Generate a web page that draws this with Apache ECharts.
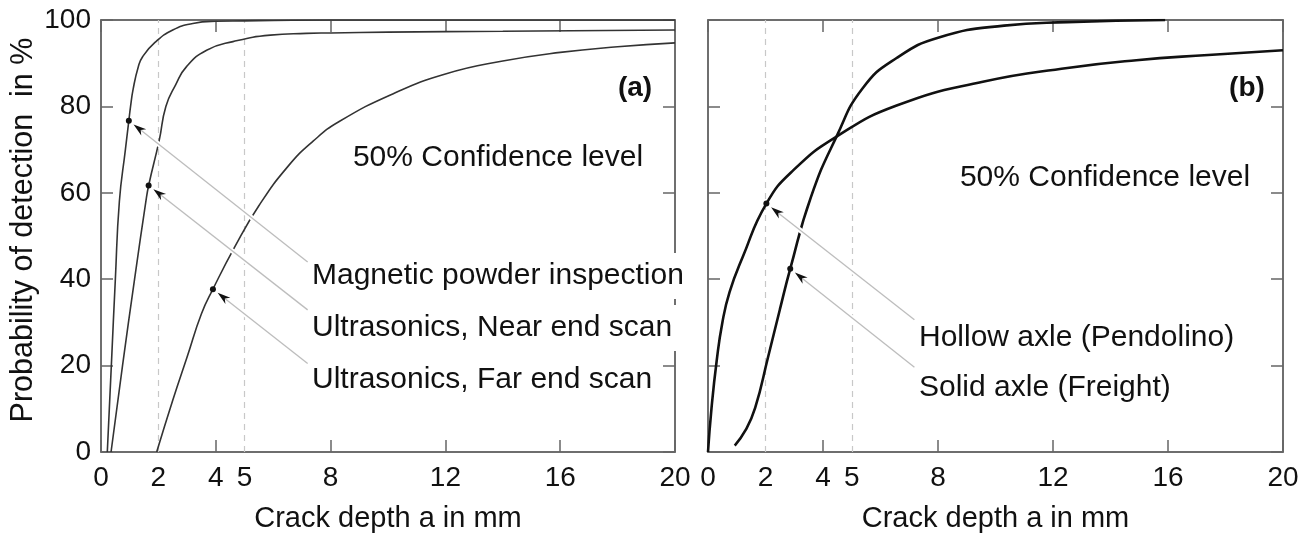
<!DOCTYPE html>
<html><head><meta charset="utf-8">
<script src="https://cdn.jsdelivr.net/npm/echarts@6/dist/echarts.min.js"></script>
<style>html,body{margin:0;padding:0;background:#fff}#c{width:1309px;height:533px}</style>
</head><body><div id="c"></div>
<script>
// ---- tick / label values ----
const xTickLabels = [0, 2, 4, 5, 8, 12, 16, 20];
const xTicks = [0, 4, 8, 12, 16, 20];
const refLines = [2, 5];

// ---- panel (a) curves ----
const magX  = [0.22, 0.36, 0.5, 0.64, 0.85, 0.97, 1.03, 1.12, 1.3, 1.45, 1.88, 2.5, 3.2, 4, 5, 6, 8, 10, 20];
const magY  = [0, 20, 40, 58, 70, 76.7, 80, 84, 89.2, 91.5, 94.8, 97.7, 99.2, 99.7, 99.8, 99.9, 100, 100, 100];
const nearX = [0.35, 0.75, 1.17, 1.57, 1.66, 2.03, 2.26, 2.6, 2.98, 3.68, 4.6, 5.9, 7.15, 8, 10, 14, 20];
const nearY = [0, 20, 40, 58.3, 61.7, 72.2, 80, 85, 89.2, 93, 95, 96.5, 96.9, 97, 97.2, 97.4, 97.7];
const farX  = [1.94, 2.5, 3, 3.5, 3.9, 4.66, 5.5, 6.5, 7.4, 8.3, 10.2, 12, 14, 16, 18, 20];
const farY  = [0, 12, 22, 32, 37.7, 47.5, 57, 66, 72, 76.5, 83, 87.5, 90.5, 92.5, 93.8, 94.7];

// ---- panel (b) curves ----
const hollowX = [0, 0.12, 0.3, 0.5, 0.75, 1.2, 2.03, 2.98, 4.47, 6.56, 9.56, 12.5, 14.9, 17.4, 20];
const hollowY = [0, 10, 21, 30, 37, 45, 57.5, 65.3, 73, 80.2, 85.7, 88.9, 90.7, 91.9, 93];
const solidX  = [0.93, 1.3, 1.64, 2.09, 2.5, 2.86, 3.58, 4.47, 5.38, 6.56, 8.06, 10.3, 12.5, 15.9];
const solidY  = [1.5, 5, 10.2, 22, 33, 42.4, 59, 73, 84.2, 91.2, 96, 98.7, 99.5, 100];

// ---- annotated points (on curves) and leader ends, data coords ----
const dotsA = [[0.97, 76.7], [1.66, 61.7], [3.9, 37.7]];
const leaderEndsA = [[7.2, 44], [7.2, 32.9], [7.2, 20.5]];
const dotsB = [[2.03, 57.5], [2.86, 42.4]];
const leaderEndsB = [[7.18, 30.6], [7.18, 19.6]];

const labelsA = ['Magnetic powder inspection', 'Ultrasonics, Near end scan', 'Ultrasonics, Far end scan'];
const labelsB = ['Hollow axle (Pendolino)', 'Solid axle (Freight)'];

const FONT = '"Liberation Sans", Arial, Helvetica, sans-serif';
const AX = '#666';
const zip = (xs, ys) => xs.map((x, i) => [x, ys[i]]);

const chart = echarts.init(document.getElementById('c'), null, { renderer: 'canvas' });

function xAx(grid, pos, withLabels) {
  return {
    gridIndex: grid, type: 'value', min: 0, max: 20, position: pos,
    axisLine: { show: true, onZero: false, lineStyle: { color: AX, width: 1.5 } },
    axisTick: { show: true, inside: true, length: 12, customValues: xTicks, lineStyle: { color: AX, width: 1.5 } },
    axisLabel: withLabels ? { show: true, customValues: xTickLabels, fontSize: 28, color: '#111', margin: 12, fontFamily: FONT, hideOverlap: false }
                          : { show: false },
    splitLine: { show: false },
    name: withLabels ? 'Crack depth a in mm' : '',
    nameLocation: 'middle', nameGap: 52,
    nameTextStyle: { fontSize: 29, color: '#111', fontFamily: FONT }
  };
}
function yAx(grid, pos, withLabels) {
  return {
    gridIndex: grid, type: 'value', min: 0, max: 100, interval: 20, position: pos,
    axisLine: { show: true, onZero: false, lineStyle: { color: AX, width: 1.5 } },
    axisTick: { show: true, inside: true, length: 12, lineStyle: { color: AX, width: 1.5 } },
    axisLabel: withLabels ? { show: true, fontSize: 28, color: '#111', margin: 10, fontFamily: FONT } : { show: false },
    splitLine: { show: false },
    name: withLabels ? 'Probability of detection  in %' : '',
    nameLocation: 'middle', nameGap: 62,
    nameTextStyle: { fontSize: 30.5, color: '#111', fontFamily: FONT, padding: [0, 0, 0, 12] }
  };
}

function lineSeries(xi, yi, data, color, width, withRef) {
  const s = {
    type: 'line', xAxisIndex: xi, yAxisIndex: yi, data: data,
    showSymbol: false, smooth: 0.5, silent: true,
    lineStyle: { color: color, width: width }, z: 3
  };
  if (withRef) {
    s.markLine = {
      silent: true, symbol: 'none', label: { show: false },
      lineStyle: { type: [6, 5], color: '#c8c8c8', width: 1.2 },
      data: refLines.map(v => ({ xAxis: v })), z: 1
    };
  }
  return s;
}

function leaderRender(params, api) {
  const p = api.coord([api.value(0), api.value(1)]);
  const q = api.coord([api.value(2), api.value(3)]);
  let dx = p[0] - q[0], dy = p[1] - q[1];
  const len = Math.hypot(dx, dy); dx /= len; dy /= len;
  const gap = 6, L = 13, W = 8;
  const tip = [p[0] - dx * gap, p[1] - dy * gap];
  const back = [tip[0] - dx * L, tip[1] - dy * L];
  const notch = [tip[0] - dx * L * 0.7, tip[1] - dy * L * 0.7];
  const nx = -dy, ny = dx;
  return {
    type: 'group', children: [
      { type: 'line', shape: { x1: notch[0], y1: notch[1], x2: q[0], y2: q[1] }, style: { stroke: '#fff', lineWidth: 5 } },
      { type: 'line', shape: { x1: notch[0], y1: notch[1], x2: q[0], y2: q[1] }, style: { stroke: '#bdbdbd', lineWidth: 1.3 } },
      { type: 'polygon', shape: { points: [tip, [back[0] + nx * W / 2, back[1] + ny * W / 2], notch, [back[0] - nx * W / 2, back[1] - ny * W / 2]] }, style: { fill: '#111' } },
      { type: 'circle', shape: { cx: p[0], cy: p[1], r: 3 }, style: { fill: '#111' } }
    ]
  };
}

const leadersA = dotsA.map((d, i) => [d[0], d[1], leaderEndsA[i][0], leaderEndsA[i][1]]);
const leadersB = dotsB.map((d, i) => [d[0], d[1], leaderEndsB[i][0], leaderEndsB[i][1]]);

function txt(x, y, s, size, align, bold, bg) {
  const st = { text: s, fill: '#111', font: (bold ? 'bold ' : '') + size + 'px ' + FONT, align: align, verticalAlign: 'middle' };
  if (bg) { st.backgroundColor = '#fff'; st.padding = [8, 6, 8, 0]; }
  return { type: 'text', x: x, y: y, z: 100, style: st };
}

chart.setOption({
  animation: false,
  backgroundColor: '#fff',
  grid: [
    { left: 101, top: 20, width: 574, height: 432, show: true, borderColor: AX, borderWidth: 1.5, backgroundColor: 'transparent', outerBoundsMode: 'none', containLabel: false },
    { left: 708, top: 20, width: 575, height: 432, show: true, borderColor: AX, borderWidth: 1.5, backgroundColor: 'transparent', outerBoundsMode: 'none', containLabel: false }
  ],
  xAxis: [xAx(0, 'bottom', true), xAx(0, 'top', false), xAx(1, 'bottom', true), xAx(1, 'top', false)],
  yAxis: [yAx(0, 'left', true), yAx(0, 'right', false), yAx(1, 'left', false), yAx(1, 'right', false)],
  series: [
    lineSeries(0, 0, zip(magX, magY), '#333', 1.6, true),
    lineSeries(0, 0, zip(nearX, nearY), '#333', 1.6, false),
    lineSeries(0, 0, zip(farX, farY), '#333', 1.6, false),
    lineSeries(2, 2, zip(hollowX, hollowY), '#111', 2.6, true),
    lineSeries(2, 2, zip(solidX, solidY), '#111', 2.6, false),
    { type: 'custom', xAxisIndex: 0, yAxisIndex: 0, data: leadersA, renderItem: leaderRender, silent: true, clip: false, z: 10 },
    { type: 'custom', xAxisIndex: 2, yAxisIndex: 2, data: leadersB, renderItem: leaderRender, silent: true, clip: false, z: 10 }
  ],
  graphic: [
    txt(498, 158, '50% Confidence level', 30, 'center', false),
    txt(635, 88, '(a)', 28, 'center', true),
    txt(312, 276, labelsA[0], 30, 'left', false, true),
    txt(312, 328, labelsA[1], 30, 'left', false, true),
    txt(312, 380, labelsA[2], 30, 'left', false, true),
    txt(1105, 178, '50% Confidence level', 30, 'center', false),
    txt(1247, 88, '(b)', 28, 'center', true),
    txt(919, 338, labelsB[0], 30, 'left', false),
    txt(919, 388, labelsB[1], 30, 'left', false)
  ]
});
</script></body></html>
